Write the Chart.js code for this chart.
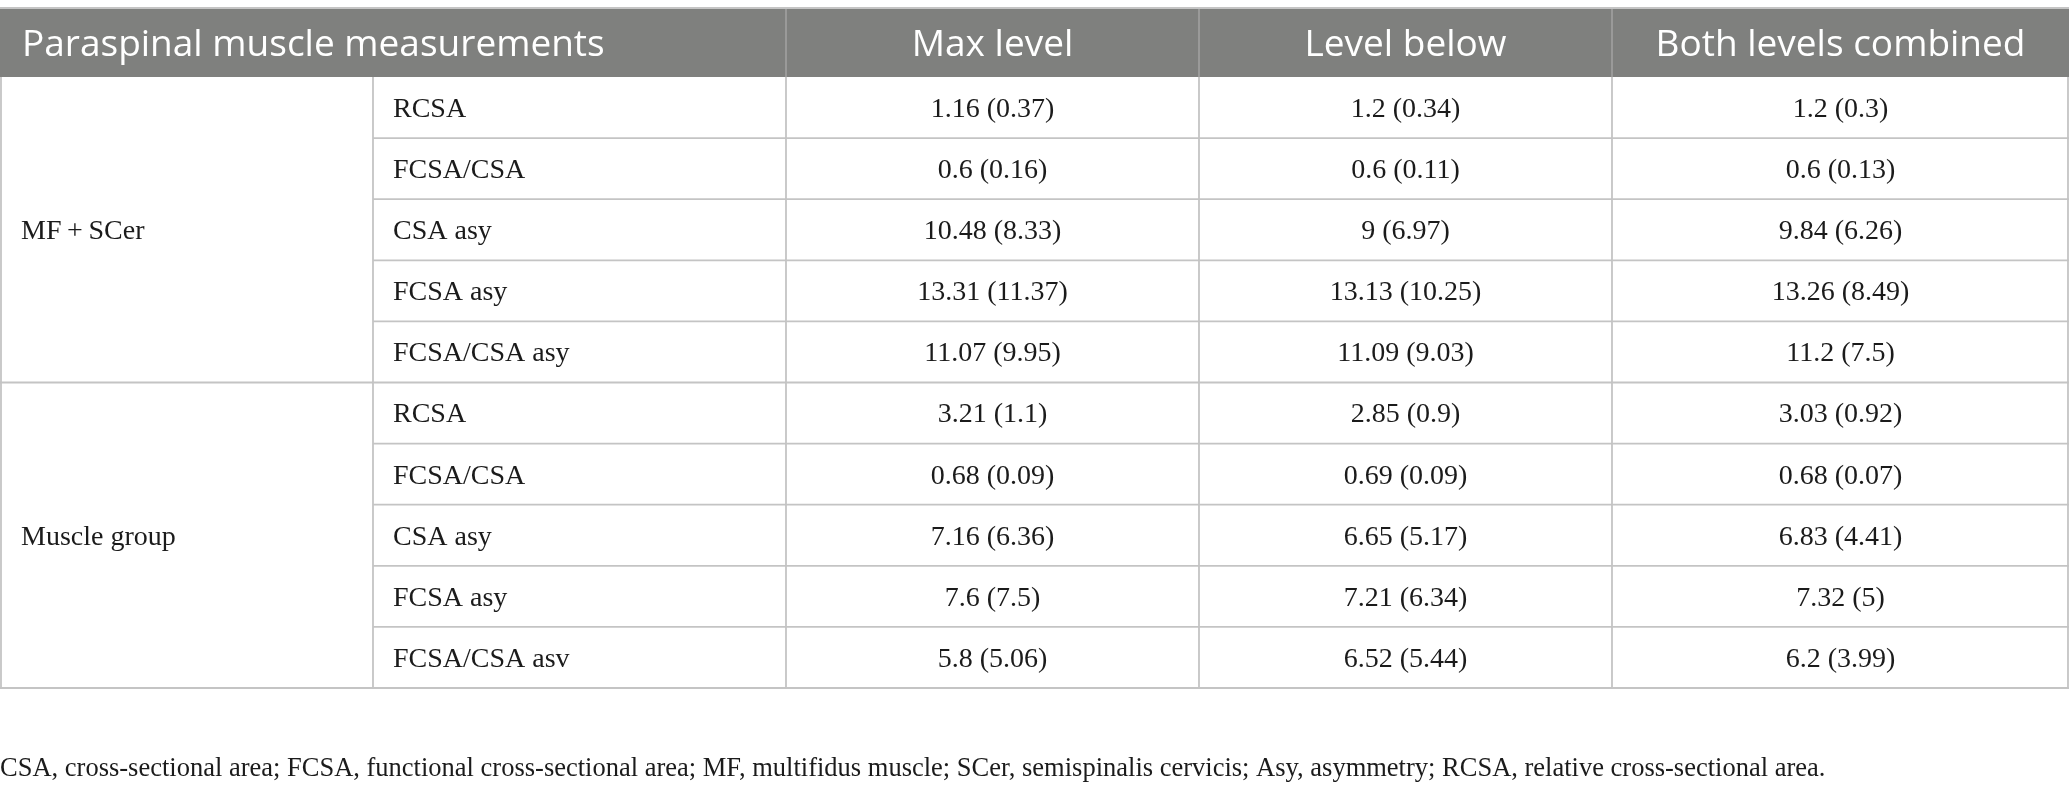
<!DOCTYPE html>
<html><head><meta charset="utf-8">
<script src="https://cdn.jsdelivr.net/npm/chart.js@4.4.1/dist/chart.umd.min.js"></script>
<style>html,body{margin:0;padding:0;background:#fff;overflow:hidden}canvas{display:block}</style>
</head><body>
<canvas id="c" width="2069" height="797" style="width:2069px;height:797px"></canvas>
<script>
// ---- data ----
const headerLabels = ["Paraspinal muscle measurements", "Max level", "Level below", "Both levels combined"];
const groups = ["MF\u2009+\u2009SCer", "Muscle group"];
const measurements = ["RCSA", "FCSA/CSA", "CSA asy", "FCSA asy", "FCSA/CSA asy",
                      "RCSA", "FCSA/CSA", "CSA asy", "FCSA asy", "FCSA/CSA asv"];
const maxLevelMean = [1.16, 0.6, 10.48, 13.31, 11.07, 3.21, 0.68, 7.16, 7.6, 5.8];
const maxLevelSD   = [0.37, 0.16, 8.33, 11.37, 9.95, 1.1, 0.09, 6.36, 7.5, 5.06];
const levelBelowMean = [1.2, 0.6, 9, 13.13, 11.09, 2.85, 0.69, 6.65, 7.21, 6.52];
const levelBelowSD   = [0.34, 0.11, 6.97, 10.25, 9.03, 0.9, 0.09, 5.17, 6.34, 5.44];
const bothMean = [1.2, 0.6, 9.84, 13.26, 11.2, 3.03, 0.68, 6.83, 7.32, 6.2];
const bothSD   = [0.3, 0.13, 6.26, 8.49, 7.5, 0.92, 0.07, 4.41, 5, 3.99];
const footnote = "CSA, cross-sectional area; FCSA, functional cross-sectional area; MF, multifidus muscle; SCer, semispinalis cervicis; Asy, asymmetry; RCSA, relative cross-sectional area.";

// ---- layout (scale units) ----
const COL_W = [373, 413, 413, 413, 457];
const HEADER_H = 69, ROW_H = 61.1, ROWS_PER_GROUP = 5;
const edges = COL_W.reduce((a, w) => { a.push(a[a.length - 1] + w); return a; }, [0]);
const colCenter = c => (edges[c] + edges[c + 1]) / 2;
const rowCenter = i => HEADER_H + (i + 0.5) * ROW_H;
const Y_MAX = HEADER_H + measurements.length * ROW_H;

const SERIF = '"Liberation Serif", "Times New Roman", serif';
const SANS = '"Open Sans", "Noto Sans", sans-serif';
const BODY_FONT = '28px ' + SERIF;
const HEAD_FONT = '37px ' + SANS;
const TEXT_COLOR = '#1b1b1b';
const GRID = '#c4c4c4';
const HEAD_BG = '#7f807e';
const HEAD_SEP = '#a3a3a3';

const fmt = (m, s) => `${m} (${s})`;

function pointsAt(xs, ys) { return xs.map((x, i) => ({ x, y: ys[i] })); }

const datasets = [
  { label: 'header', texts: headerLabels, font: HEAD_FONT, color: '#ffffff', dy: 3,
    aligns: ['left', 'center', 'center', 'center'], pad: 22,
    data: pointsAt([edges[0], colCenter(2), colCenter(3), colCenter(4)], headerLabels.map(() => HEADER_H / 2)) },
  { label: 'groups', texts: groups, font: BODY_FONT, color: TEXT_COLOR, aligns: ['left', 'left'], pad: 21,
    data: pointsAt(groups.map(() => edges[0]), groups.map((g, k) => HEADER_H + (k + 0.5) * ROWS_PER_GROUP * ROW_H)) },
  { label: 'measurements', texts: measurements, font: BODY_FONT, color: TEXT_COLOR, aligns: measurements.map(() => 'left'), pad: 20,
    data: pointsAt(measurements.map(() => edges[1]), measurements.map((m, i) => rowCenter(i))) },
  { label: 'Max level', texts: maxLevelMean.map((m, i) => fmt(m, maxLevelSD[i])), font: BODY_FONT, color: TEXT_COLOR,
    data: pointsAt(maxLevelMean.map(() => colCenter(2)), maxLevelMean.map((m, i) => rowCenter(i))) },
  { label: 'Level below', texts: levelBelowMean.map((m, i) => fmt(m, levelBelowSD[i])), font: BODY_FONT, color: TEXT_COLOR,
    data: pointsAt(levelBelowMean.map(() => colCenter(3)), levelBelowMean.map((m, i) => rowCenter(i))) },
  { label: 'Both levels combined', texts: bothMean.map((m, i) => fmt(m, bothSD[i])), font: BODY_FONT, color: TEXT_COLOR,
    data: pointsAt(bothMean.map(() => colCenter(4)), bothMean.map((m, i) => rowCenter(i))) }
].map(d => Object.assign({ pointRadius: 0, pointHoverRadius: 0, showLine: false, dy: 2 }, d));

const tablePlugin = {
  id: 'table',
  beforeDatasetsDraw(chart) {
    const { ctx, scales: { x, y } } = chart;
    const X = v => x.getPixelForValue(v), Y = v => y.getPixelForValue(v);
    ctx.save();
    // header background
    ctx.fillStyle = HEAD_BG;
    ctx.fillRect(X(0), Y(0), X(edges[5]) - X(0), Y(HEADER_H) - Y(0));
    // header separators
    ctx.strokeStyle = HEAD_SEP; ctx.lineWidth = 1.5;
    [2, 3, 4].forEach(c => { ctx.beginPath(); ctx.moveTo(X(edges[c]), Y(0)); ctx.lineTo(X(edges[c]), Y(HEADER_H)); ctx.stroke(); });
    // body grid
    ctx.strokeStyle = GRID; ctx.lineWidth = 1.8;
    const hline = (v, x0, x1) => { ctx.beginPath(); ctx.moveTo(x0, Y(v)); ctx.lineTo(x1, Y(v)); ctx.stroke(); };
    hline(0, X(0), X(edges[5]));
    for (let i = 1; i <= measurements.length; i++) {
      const v = HEADER_H + i * ROW_H;
      const full = i % ROWS_PER_GROUP === 0;
      hline(v, full ? X(0) : X(edges[1]), X(edges[5]));
    }
    [0, 1, 2, 3, 4, 5].forEach(c => {
      let px = X(edges[c]);
      if (c === 0) px += 1; if (c === 5) px -= 1;
      ctx.beginPath(); ctx.moveTo(px, Y(HEADER_H)); ctx.lineTo(px, Y(Y_MAX)); ctx.stroke();
    });
    ctx.restore();
  },
  afterDatasetsDraw(chart) {
    const { ctx } = chart;
    ctx.save();
    ctx.textBaseline = 'middle';
    chart.data.datasets.forEach((ds, di) => {
      const meta = chart.getDatasetMeta(di);
      ctx.font = ds.font; ctx.fillStyle = ds.color;
      meta.data.forEach((el, i) => {
        const align = ds.aligns ? ds.aligns[i] : 'center';
        ctx.textAlign = align;
        const px = align === 'left' ? el.x + (ds.pad || 0) : el.x;
        ctx.fillText(ds.texts[i], px, el.y + ds.dy);
      });
    });
    ctx.restore();
  }
};

new Chart(document.getElementById('c'), {
  type: 'scatter',
  data: { datasets },
  options: {
    responsive: false, animation: false, devicePixelRatio: 1,
    layout: { padding: { top: 8, left: 0, right: 0, bottom: 0 } },
    events: [],
    scales: {
      x: { type: 'linear', min: 0, max: edges[5], display: false },
      y: { type: 'linear', min: 0, max: Y_MAX, reverse: true, display: false }
    },
    plugins: {
      legend: { display: false }, tooltip: { enabled: false },
      title: { display: false },
      subtitle: { display: true, text: footnote, position: 'bottom', align: 'start', color: TEXT_COLOR,
        font: { family: SERIF, size: 26.5, weight: 'normal' }, padding: { top: 65.2, bottom: 12 } }
    }
  },
  plugins: [tablePlugin]
});
</script>
</body></html>
